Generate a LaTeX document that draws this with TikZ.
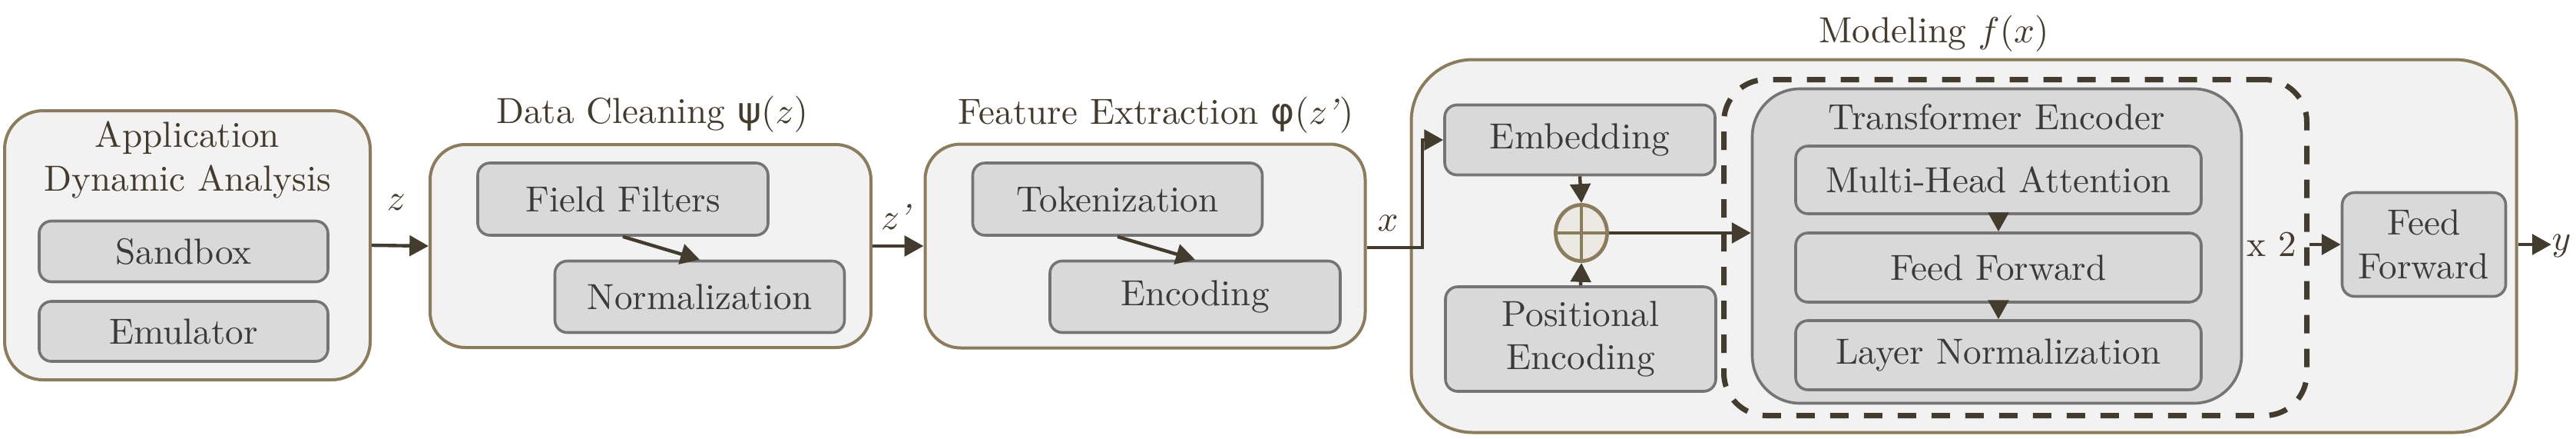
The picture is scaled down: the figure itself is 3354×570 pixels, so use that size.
\documentclass[tikz,border=0pt]{standalone}
\usepackage{fix-cm}
\usepackage{fontspec}
\setmainfont{lmroman10-regular.otf}[ItalicFont=lmroman10-italic.otf,BoldFont=lmroman10-bold.otf]
\newfontfamily\grkfont{DejaVu Sans}
\usetikzlibrary{arrows.meta,calc,shapes.geometric}
\definecolor{obord}{HTML}{8A7C5C}
\definecolor{ofill}{HTML}{F2F2F2}
\definecolor{ibord}{HTML}{767373}
\definecolor{ifill}{HTML}{D9D9D9}
\definecolor{ink}{HTML}{433C2E}
\definecolor{gink}{HTML}{3A3A3A}
\definecolor{cfill}{HTML}{ECE9E3}
\newcommand\pxl[1]{#1*0.25pt}
\newcommand\myfs{\fontsize{11.8}{14.1}\selectfont}
\begin{document}
\begin{tikzpicture}[x=0.25pt,y=-0.25pt,
  every node/.append style={text=ink,font=\myfs},
  outerbox/.style={draw=obord,fill=ofill,line width=1pt,inner sep=0pt},
  innerbox/.style={draw=ibord,fill=ifill,line width=0.9pt,inner sep=0pt,rounded corners=\pxl{16},text=gink},
  txt/.style={inner sep=0pt},
  arr/.style={draw=ink,line width=1.1pt,-{Triangle[length=6.2pt,width=6.6pt]}}]
\useasboundingbox (0,0) rectangle (3354,570);

% Application Dynamic Analysis
\node[outerbox,minimum width=\pxl{476},minimum height=\pxl{350},rounded corners=\pxl{50}] (app) at (244,319) {};
\node[txt,align=center] (apptitle) at (244,208) {Application\\Dynamic Analysis};
\node[innerbox,minimum width=\pxl{376},minimum height=\pxl{79}] (sandbox) at (239,327) {Sandbox};
\node[innerbox,minimum width=\pxl{376},minimum height=\pxl{78}] (emulator) at (239,431) {Emulator};

% Data cleaning
\node[outerbox,minimum width=\pxl{574},minimum height=\pxl{264},rounded corners=\pxl{46}] (dc) at (847,320) {};
\node[txt,anchor=base] (dctitle) at (849,160) {Data Cleaning {\grkfont ψ}$(z)$};
\node[innerbox,minimum width=\pxl{378},minimum height=\pxl{94}] (ff) at (811,259) {Field Filters};
\node[innerbox,minimum width=\pxl{377},minimum height=\pxl{93}] (norm) at (911,386) {Normalization};

% Feature extraction
\node[outerbox,minimum width=\pxl{573},minimum height=\pxl{265},rounded corners=\pxl{46}] (fe) at (1491,320) {};
\node[txt,anchor=base] (fetitle) at (1505,161) {Feature Extraction {\grkfont φ}$(z$\kern-0.5pt\textit{’}$)$};
\node[innerbox,minimum width=\pxl{377},minimum height=\pxl{94}] (tok) at (1455,259) {Tokenization};
\node[innerbox,minimum width=\pxl{378},minimum height=\pxl{93}] (enc) at (1556,386) {Encoding};

% Modeling
\node[outerbox,minimum width=\pxl{1439},minimum height=\pxl{485},rounded corners=\pxl{80}] (mod) at (2557,320) {};
\node[txt,anchor=base] (modtitle) at (2518,55) {Modeling $f(x)$};
\node[innerbox,minimum width=\pxl{352},minimum height=\pxl{91}] (emb) at (2057,182) {Embedding};
\node[ellipse,draw=obord,fill=cfill,line width=1.2pt,inner sep=0pt,minimum width=\pxl{67},minimum height=\pxl{73}] (add) at (2059,303) {};
\draw[obord,line width=1.2pt] (add.north) -- (add.south) (add.west) -- (add.east);
\node[innerbox,minimum width=\pxl{352},minimum height=\pxl{136},align=center] (pos) at (2058,441) {Positional\\Encoding};
\node[draw=ink,line width=1.75pt,dash pattern=on 6pt off 5pt,inner sep=0pt,rounded corners=\pxl{55},minimum width=\pxl{759},minimum height=\pxl{437}] (rep) at (2624,322) {};
\node[draw=ibord,fill=ifill,line width=0.9pt,inner sep=0pt,rounded corners=\pxl{62},minimum width=\pxl{637},minimum height=\pxl{409}] (te) at (2600,320) {};
\node[txt,anchor=base,text=gink] (tetitle) at (2600,168) {Transformer Encoder};
\node[innerbox,minimum width=\pxl{528},minimum height=\pxl{88}] (mha) at (2602,234) {Multi-Head Attention};
\node[innerbox,minimum width=\pxl{528},minimum height=\pxl{90}] (ffw) at (2602,348) {Feed Forward};
\node[innerbox,minimum width=\pxl{528},minimum height=\pxl{90}] (ln) at (2602,462) {Layer Normalization};
\node[txt] (times) at (2958,318) {x 2};
\node[innerbox,minimum width=\pxl{213},minimum height=\pxl{135},align=center] (ff2) at (3156,318) {Feed\\Forward};
\node[txt] (ylab) at (3335,320) {$y$};

% labels
\node[txt] (zlab) at (516,263) {$z$};
\node[txt] (zplab) at (1167,282) {$z$\kern-0.5pt\textit{’}};
\node[txt] (xlab) at (1807,290) {$x$};

% connectors
\draw[arr] (app.east) -- (dc.west);
\draw[arr] (dc.east) -- (fe.west);
\coordinate (elbow) at (1852,322);
\draw[arr] (fe.east |- elbow) -- (elbow) |- (emb.west);
\draw[arr] (ff.south) -- (norm.north);
\draw[arr] (tok.south) -- (enc.north);
\draw[arr] (emb.south) -- (add.north);
\draw[arr] (pos.north) -- (add.south);
\draw[arr] (add.east) -- (te.west |- add.east);
\draw[arr] (mha.south) -- (ffw.north);
\draw[arr] (ffw.south) -- (ln.north);
\draw[arr] (rep.east |- ff2.west) -- (ff2.west);
\draw[arr] (mod.east |- ff2.east) -- (ylab.west |- ff2.east);
\end{tikzpicture}
\end{document}
